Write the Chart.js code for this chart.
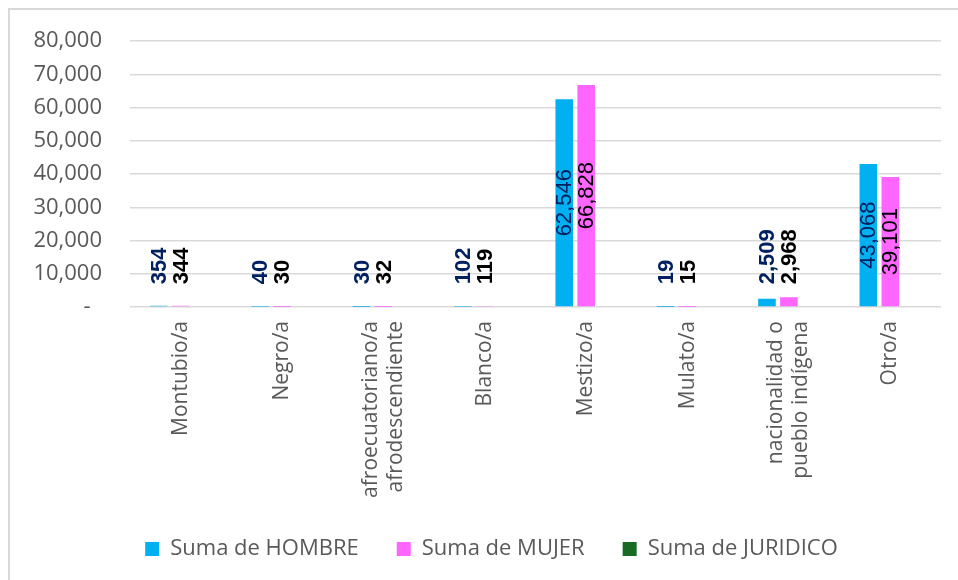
<!DOCTYPE html>
<html>
<head>
<meta charset="utf-8">
<script src="https://cdn.jsdelivr.net/npm/chart.js@4.4.1/dist/chart.umd.min.js"></script>
<style>
  html, body { margin: 0; padding: 0; background: #fff; overflow: hidden; }
  .frame { position: absolute; left: 8px; top: 8px; width: 1000px; height: 620px;
           border-left: 2px solid #d9d9d9; border-top: 2px solid #d9d9d9; }
  #wrap { position: absolute; left: 0; top: 0; width: 958px; height: 580px; }
</style>
</head>
<body>
<div class="frame"></div>
<div id="wrap"><canvas id="c"></canvas></div>
<script>
var categories = [
    'Montubio/a', 'Negro/a', ['afroecuatoriano/a', 'afrodescendiente'], 'Blanco/a',
    'Mestizo/a', 'Mulato/a', ['nacionalidad o', 'pueblo indígena'], 'Otro/a'
];
var hombre = [354, 40, 30, 102, 62546, 19, 2509, 43068];
var mujer = [344, 30, 32, 119, 66828, 15, 2968, 39101];
var juridico = [0, 0, 0, 0, 0, 0, 0, 0];
var yTicks = [0, 10000, 20000, 30000, 40000, 50000, 60000, 70000, 80000];

var GREY = '#595959';
var AXIS_FONT = 'Open Sans';

// value labels, rotated, centred in tall bars or sitting above short ones
var barLabels = {
    id: 'barLabels',
    afterDatasetsDraw: function (chart) {
        var ctx = chart.ctx;
        var colors = ['#002060', '#000000'];
        [0, 1].forEach(function (di) {
            var meta = chart.getDatasetMeta(di);
            var data = chart.data.datasets[di].data;
            meta.data.forEach(function (bar, i) {
                var v = data[i];
                var txt = v.toLocaleString('en-US');
                ctx.save();
                ctx.fillStyle = colors[di];
                ctx.textBaseline = 'middle';
                if (v > 10000) {
                    ctx.font = '22px "Liberation Sans"';
                    ctx.translate(bar.x, (bar.y + bar.base) / 2);
                    ctx.rotate(-Math.PI / 2);
                    ctx.textAlign = 'center';
                } else {
                    ctx.font = 'bold 22px "Liberation Sans"';
                    ctx.translate(bar.x, bar.base - 22);
                    ctx.rotate(-Math.PI / 2);
                    ctx.textAlign = 'left';
                }
                ctx.fillText(txt, 0, 1);
                ctx.restore();
            });
        });
    }
};

// category names, vertical, multi-line ones centred on the tick
var catLabels = {
    id: 'catLabels',
    afterDraw: function (chart) {
        var ctx = chart.ctx;
        var xs = chart.scales.x;
        var lh = 25;
        ctx.save();
        ctx.fillStyle = GREY;
        ctx.font = '21px "' + AXIS_FONT + '"';
        ctx.textAlign = 'right';
        ctx.textBaseline = 'middle';
        categories.forEach(function (c, i) {
            var lines = Array.isArray(c) ? c : [c];
            var x0 = xs.getPixelForTick(i);
            lines.forEach(function (ln, j) {
                ctx.save();
                ctx.translate(x0 + (j - (lines.length - 1) / 2) * lh, chart.chartArea.bottom + 14);
                ctx.rotate(-Math.PI / 2);
                ctx.fillText(ln, 0, 0);
                ctx.restore();
            });
        });
        ctx.restore();
    }
};

var legendShift = {
    id: 'legendShift',
    afterLayout: function (chart) {
        var lg = chart.legend;
        lg.left += 21;
        lg.right += 21;
        lg.top -= 10;
        lg.bottom -= 10;
    }
};

new Chart(document.getElementById('c'), {
    type: 'bar',
    data: {
        labels: categories,
        datasets: [
            { label: 'Suma de HOMBRE', data: hombre, backgroundColor: '#00B0F0' },
            { label: 'Suma de MUJER', data: mujer, backgroundColor: '#FF66FF' },
            { label: 'Suma de JURIDICO', data: juridico, backgroundColor: '#196B24' }
        ]
    },
    options: {
        responsive: true,
        maintainAspectRatio: false,
        animation: false,
        layout: { padding: { left: 0, right: 17, top: 37, bottom: 0 } },
        datasets: { bar: { categoryPercentage: 0.65, barPercentage: 0.8 } },
        plugins: {
            legend: {
                position: 'bottom',
                labels: {
                    boxWidth: 14, boxHeight: 14, padding: 38,
                    color: GREY,
                    font: { family: AXIS_FONT, size: 22 }
                }
            },
            tooltip: { enabled: false }
        },
        scales: {
            x: {
                grid: { display: false },
                border: { display: false },
                ticks: { display: false },
                afterFit: function (s) { s.height = 203; }
            },
            y: {
                min: 0, max: 80000,
                afterBuildTicks: function (s) { s.ticks = yTicks.map(function (v) { return { value: v }; }); },
                grid: { color: '#d9d9d9', lineWidth: 1.5, drawTicks: false },
                border: { display: false },
                ticks: {
                    color: GREY, padding: 28,
                    font: { family: AXIS_FONT, size: 22 },
                    callback: function (v) { return v === 0 ? '-  ' : v.toLocaleString('en-US'); }
                },
                afterFit: function (s) { s.width = 130; }
            }
        }
    },
    plugins: [barLabels, catLabels, legendShift]
});
</script>
</body>
</html>
